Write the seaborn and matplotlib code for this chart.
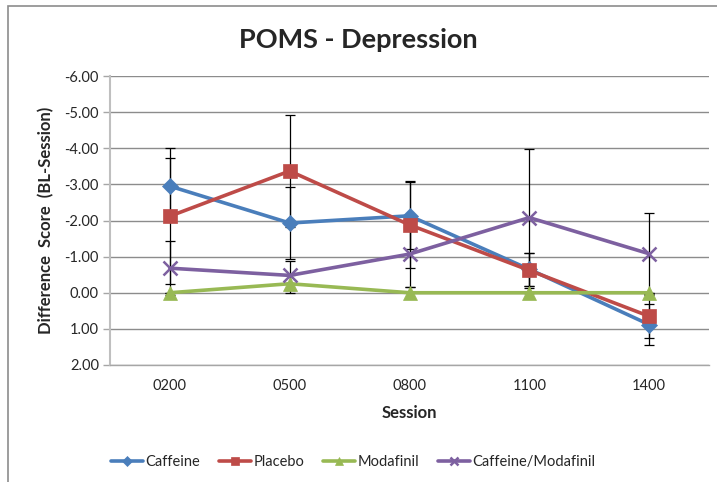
import matplotlib
matplotlib.use("Agg")
import matplotlib.pyplot as plt
import seaborn as sns
import pandas as pd
import numpy as np
from matplotlib.patches import Rectangle

sessions = ["0200", "0500", "0800", "1100", "1400"]
groups = ["Caffeine", "Placebo", "Modafinil", "Caffeine/Modafinil"]
caffeine = [-2.95, -1.93, -2.13, -0.65, 0.88]
placebo = [-2.12, -3.37, -1.88, -0.62, 0.65]
modafinil = [0.0, -0.25, 0.0, 0.0, 0.0]
caf_mod = [-0.68, -0.48, -1.07, -2.08, -1.08]
caffeine_err = [0.77, 1.00, 0.93, 0.45, 0.58]
placebo_err = [1.88, 1.55, 1.20, 0.48, 0.60]
modafinil_err = [0.0, 0.25, 0.15, 0.0, 0.0]
caf_mod_err = [0.75, 0.40, 0.92, 1.90, 1.12]

values = {"Caffeine": caffeine, "Placebo": placebo, "Modafinil": modafinil,
          "Caffeine/Modafinil": caf_mod}
errors = {"Caffeine": caffeine_err, "Placebo": placebo_err, "Modafinil": modafinil_err,
          "Caffeine/Modafinil": caf_mod_err}
colors = {"Caffeine": "#4A7EBB", "Placebo": "#BE4B48", "Modafinil": "#98B954",
          "Caffeine/Modafinil": "#7D60A0"}
markers = {"Caffeine": "D", "Placebo": "s", "Modafinil": "^", "Caffeine/Modafinil": "x"}
msizes = {"Caffeine": 8.5, "Placebo": 10, "Modafinil": 10, "Caffeine/Modafinil": 10}

rows = []
for g in groups:
    for i, s in enumerate(sessions):
        rows.append({"pos": i, "Session": s, "group": g, "value": values[g][i], "err": errors[g][i]})
df = pd.DataFrame(rows)

sns.set_theme(style="white")
plt.rcParams["font.family"] = ["Lato", "DejaVu Sans"]

fig = plt.figure(figsize=(7.17, 4.82), dpi=100)
ax = fig.add_axes([110/717, 1-365/482, (709-110)/717, (365-76)/482])

# chart border
fig.patches.append(Rectangle((8/717, -0.1), 1.1, 1-6/482+0.1, transform=fig.transFigure,
                             fill=False, edgecolor="#8c8c8c", linewidth=1.2, clip_on=False))

for g in groups:
    sub = df[df.group == g]
    ax.errorbar(sub["pos"], sub["value"], yerr=sub["err"], fmt="none", ecolor="black",
                elinewidth=0.9, capsize=3.5, capthick=0.9, zorder=2)

for g in groups:
    sub = df[df.group == g]
    sns.lineplot(data=sub, x="pos", y="value", ax=ax, color=colors[g], marker=markers[g],
                 markersize=msizes[g], linewidth=2.6, markeredgecolor=colors[g],
                 markeredgewidth=1.8 if g == "Caffeine/Modafinil" else 0.5,
                 label=g, zorder=3, legend=False)

ax.set_xlim(-0.5, 4.5)
ax.set_ylim(2, -6)
ax.set_yticks(np.arange(-6, 3, 1))
ax.set_yticklabels([f"{v:.2f}" for v in np.arange(-6, 3, 1)], fontsize=10.5)
ax.set_xticks(range(len(sessions)))
ax.set_xticklabels(sessions, fontsize=10.5)
ax.set_xticks(np.arange(-0.5, 5, 1), minor=True)
ax.tick_params(axis="x", which="major", length=0, pad=10)
ax.tick_params(axis="x", which="minor", length=5, color="#a6a6a6", width=1, direction="out")
ax.tick_params(axis="y", length=5, color="#a6a6a6", width=1, direction="out", pad=3, left=True)
ax.grid(axis="y", color="#8c8c8c", linewidth=1)
ax.grid(axis="x", visible=False)
for side in ["top", "right"]:
    ax.spines[side].set_visible(False)
ax.spines["left"].set_color("#bfbfbf")
ax.spines["left"].set_linewidth(1.5)
ax.spines["bottom"].set_color("#a6a6a6")
ax.spines["bottom"].set_linewidth(1)

ax.set_xlabel("Session", fontsize=12, fontweight="bold", labelpad=9)
ax.set_ylabel("Difference  Score  (BL-Session)", fontsize=12, fontweight="bold", labelpad=7)
fig.text(0.5, 1-40/482, "POMS - Depression", ha="center", va="center", fontsize=19.5, fontweight="bold")

handles, labels = ax.get_legend_handles_labels()
fig.legend(handles, labels, loc="center", bbox_to_anchor=(353/717, 1-462/482), ncol=4,
           frameon=False, fontsize=10.5, handlelength=2.2, columnspacing=1.3, handletextpad=0.15,
           markerscale=0.6)

fig.savefig("out.png", dpi=100)
